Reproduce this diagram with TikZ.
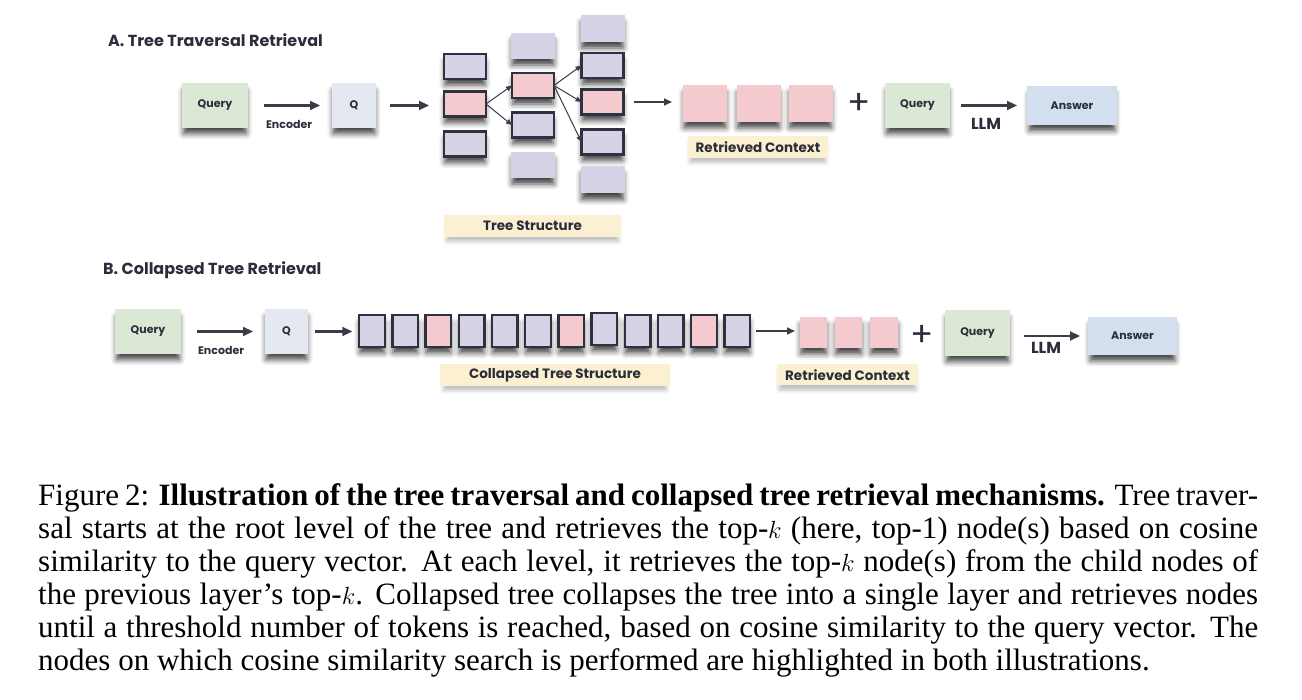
\documentclass[tikz,border=0pt]{standalone}
\usepackage{fontspec}
\setmainfont{Liberation Serif}
\newfontfamily\dfont{Poppins}
\usetikzlibrary{arrows.meta,shadows.blur}
\definecolor{pur}{HTML}{D8D2E7}
\definecolor{pnk}{HTML}{F4CACE}
\definecolor{grn}{HTML}{DCE8D6}
\definecolor{qcol}{HTML}{E4E8F1}
\definecolor{anscol}{HTML}{D3DEEF}
\definecolor{cream}{HTML}{FBF1D2}
\definecolor{edge}{HTML}{2E3140}
\definecolor{txt}{HTML}{2B2D3A}
\definecolor{arr}{HTML}{3A3C48}
\begin{document}
\begin{tikzpicture}[x=1pt,y=-1pt,
  box/.style={inner sep=0pt, outer sep=0pt, blur shadow={shadow xshift=0pt,shadow yshift=-7pt,shadow blur radius=6pt,shadow opacity=75,shadow scale=0.95}},
  lshadow/.style={inner sep=0pt, outer sep=0pt, blur shadow={shadow xshift=0pt,shadow yshift=-5pt,shadow blur radius=4pt,shadow opacity=25,shadow scale=0.97}},
  tb/.style={box, draw=edge, line width=2.4pt},
  dt/.style={font=\dfont\bfseries\fontsize{11}{13}\selectfont, text=txt},
  lt/.style={font=\dfont\bfseries\fontsize{13.5}{15}\selectfont, text=txt},
  ttl/.style={font=\dfont\bfseries\fontsize{16}{18}\selectfont, text=txt, anchor=west, inner sep=0pt},
  llmt/.style={font=\dfont\bfseries\fontsize{16}{18}\selectfont, text=txt},
  bigarrow/.style={draw=arr, line width=2.2pt, -{Triangle[length=10pt,width=9pt]}},
  midarrow/.style={draw=arr, line width=1.6pt, -{Triangle[length=8pt,width=7pt]}},
  thinarrow/.style={draw=arr, line width=1pt, -{Triangle[length=6pt,width=5pt]}},
  captext/.style={anchor=base west, inner sep=0pt, font=\fontsize{31}{33}\selectfont},
  plussign/.style={font=\dfont\fontsize{34}{34}\selectfont, text=txt, inner sep=0pt},
]
\useasboundingbox (0,0) rectangle (1302,700);

% ---------- A ----------
\node[ttl] (tA) at (108,40) {A. Tree Traversal Retrieval};
\node[box, fill=grn, minimum width=66pt, minimum height=45pt, dt] (qa) at (215,105.5) {Query};
\node[box, fill=qcol, minimum width=44pt, minimum height=45pt, dt] (Qa) at (354,105.5) {Q};
\draw[bigarrow, shorten <=16pt, shorten >=12pt] (qa.east) -- (Qa.west);
\node[dt] (encA) at (289,124) {Encoder};

% tree column 1
\node[tb, fill=pur, minimum width=42pt, minimum height=25pt] (t1a) at (465,66.5) {};
\node[tb, fill=pnk, minimum width=42pt, minimum height=25pt] (t1b) at (465,104) {};
\node[tb, fill=pur, minimum width=42pt, minimum height=25pt] (t1c) at (465,144) {};
% column 2
\node[box, fill=pur, minimum width=44pt, minimum height=26pt] (t2a) at (533,46) {};
\node[tb, fill=pnk, minimum width=42pt, minimum height=25pt] (t2b) at (533,85.5) {};
\node[tb, fill=pur, minimum width=42pt, minimum height=25pt] (t2c) at (533,125) {};
\node[box, fill=pur, minimum width=44pt, minimum height=26pt] (t2d) at (533,165) {};
% column 3
\node[box, fill=pur, minimum width=44pt, minimum height=27pt] (t3a) at (602.5,28.5) {};
\node[tb, fill=pur, minimum width=42pt, minimum height=25pt] (t3b) at (602.5,65.5) {};
\node[tb, fill=pnk, minimum width=42pt, minimum height=25pt] (t3c) at (602.5,102) {};
\node[tb, fill=pur, minimum width=42pt, minimum height=25pt] (t3d) at (602.5,142) {};
\node[box, fill=pur, minimum width=44pt, minimum height=27pt] (t3e) at (602.5,180) {};

\draw[bigarrow, shorten <=14pt, shorten >=15pt] (Qa.east) -- (Qa.east -| t1b.west);
\draw[thinarrow] (t1b.east) -- (t2b.west);
\draw[thinarrow] (t1b.east) -- (t2c.west);
\draw[thinarrow] (t2b.east) -- (t3b.west);
\draw[thinarrow] (t2b.east) -- (t3c.west);
\draw[thinarrow] (t2b.east) -- (t3d.west);

\node[lshadow, fill=cream, minimum width=177pt, minimum height=22pt, lt] (tsA) at (532.5,226) {Tree Structure};

% retrieved context A
\node[box, fill=pnk, minimum width=44pt, minimum height=37pt] (ca1) at (705,103.5) {};
\node[box, fill=pnk, minimum width=44pt, minimum height=37pt] (ca2) at (758.5,103.5) {};
\node[box, fill=pnk, minimum width=44pt, minimum height=37pt] (ca3) at (810.5,103.5) {};
\draw[midarrow, shorten <=10pt, shorten >=11pt] (t3c.east) -- (t3c.east -| ca1.west);
\node[lshadow, fill=cream, minimum width=140pt, minimum height=22pt, lt] (rcA) at (758,147) {Retrieved Context};
\node[plussign] (plA) at (859,104) {+};
\node[box, fill=grn, minimum width=65pt, minimum height=45pt, dt] (qa2) at (917.5,105.5) {Query};
\node[box, fill=anscol, minimum width=90pt, minimum height=39pt, dt] (ansA) at (1072,105.5) {Answer};
\draw[bigarrow, shorten <=11pt, shorten >=10pt] (qa2.east) -- (ansA.west);
\node[llmt] (llmA) at (986,124) {LLM};

% ---------- B ----------
\node[ttl] (tB) at (103,270) {B. Collapsed Tree Retrieval};
\node[box, fill=grn, minimum width=66pt, minimum height=45pt, dt] (qb) at (148,331.5) {Query};
\node[box, fill=qcol, minimum width=43pt, minimum height=45pt, dt] (Qb) at (286.5,331.5) {Q};
\draw[bigarrow, shorten <=16pt, shorten >=12pt] (qb.east) -- (Qb.west);
\node[dt] (encB) at (221,350) {Encoder};

\foreach \i/\c/\dy in {0/pur/0,1/pur/0,2/pnk/0,3/pur/0,4/pur/0,5/pur/0,6/pnk/0,7/pur/-2,8/pur/0,9/pur/0,10/pnk/0,11/pur/0}{
  \node[tb, fill=\c, minimum width=25.5pt, minimum height=32pt] (cb\i) at ({372+33.2*\i},{331+\dy}) {};
}
\draw[bigarrow, shorten <=7pt, shorten >=7pt] (Qb.east) -- (Qb.east -| cb0.west);
\node[lshadow, fill=cream, minimum width=230pt, minimum height=22pt, lt] (csB) at (555,375) {Collapsed Tree Structure};

\node[box, fill=pnk, minimum width=27pt, minimum height=31pt] (cx1) at (813.5,332.5) {};
\node[box, fill=pnk, minimum width=27pt, minimum height=31pt] (cx2) at (848.5,332.5) {};
\node[box, fill=pnk, minimum width=28pt, minimum height=31pt] (cx3) at (884,332.5) {};
\draw[midarrow, shorten <=6pt, shorten >=5pt] (cb11.east) -- (cb11.east -| cx1.west);
\node[lshadow, fill=cream, minimum width=141pt, minimum height=21pt, lt] (rcB) at (847.5,375) {Retrieved Context};
\node[plussign] (plB) at (922,336) {+};
\node[box, fill=grn, minimum width=65pt, minimum height=46pt, dt] (qb2) at (977.5,333) {Query};
\node[box, fill=anscol, minimum width=89pt, minimum height=38pt, dt] (ansB) at (1132.5,336) {Answer};
\draw[bigarrow, shorten <=14pt, shorten >=8pt] (qb2.east |- ansB.west) -- (ansB.west);
\node[llmt] (llmB) at (1046,348) {LLM};

% ---------- caption ----------
\node[captext] (l1) at (38,505) {\makebox[1220pt][s]{Figure 2: \textbf{Illustration of the tree traversal and collapsed tree retrieval mechanisms.} Tree traver-}};
\node[captext] (l2) at (38,538) {\makebox[1220pt][s]{sal starts at the root level of the tree and retrieves the top-$k$ (here, top-1) node(s) based on cosine}};
\node[captext] (l3) at (38,571) {\makebox[1220pt][s]{similarity to the query vector. At each level, it retrieves the top-$k$ node(s) from the child nodes of}};
\node[captext] (l4) at (38,604) {\makebox[1220pt][s]{the previous layer’s top-$k$. Collapsed tree collapses the tree into a single layer and retrieves nodes}};
\node[captext] (l5) at (38,637) {\makebox[1220pt][s]{until a threshold number of tokens is reached, based on cosine similarity to the query vector. The}};
\node[captext] (l6) at (38,670) {nodes on which cosine similarity search is performed are highlighted in both illustrations.};
\end{tikzpicture}
\end{document}
